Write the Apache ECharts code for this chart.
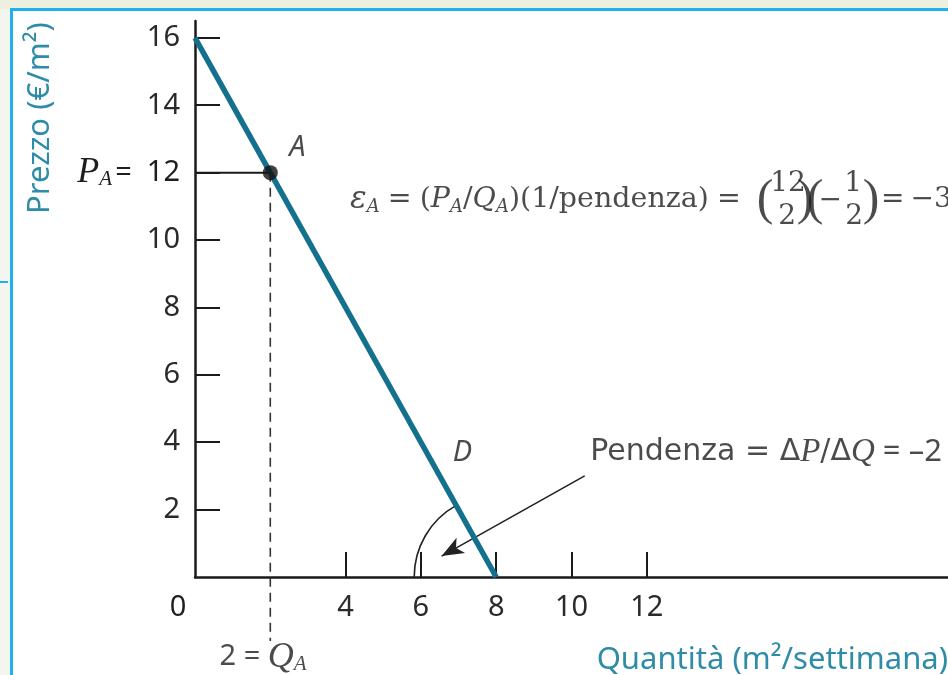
<!DOCTYPE html>
<html>
<head>
<meta charset="utf-8">
<script src="https://cdn.jsdelivr.net/npm/echarts@6/dist/echarts.min.js"></script>
<style>
  html, body { margin: 0; padding: 0; background: #ffffff; }
  #chart { width: 948px; height: 675px; }
</style>
</head>
<body>
<div id="chart"></div>
<script>
// Linear demand curve and the point-elasticity example at A
const priceTicks = [2, 4, 6, 8, 10, 12, 14, 16];
const quantityTicks = [4, 6, 8, 10, 12];
const quantityLabels = [0, 4, 6, 8, 10, 12];
const demandQ = [0, 8];
const demandP = [16, 0];
const pointA = [2, 12];          // [Q_A, P_A]

const SANS = '"Noto Sans", "Open Sans", sans-serif';
const WIDE = '"DejaVu Sans", "Noto Sans", sans-serif';
const SERIF = '"DejaVu Serif", "Liberation Serif", serif';
const TIMES = '"Liberation Serif", serif';
const INK = '#1e1e1e';
const TEAL = '#13718d';
const TITLE = '#2f8ca8';

const chart = echarts.init(document.getElementById('chart'), null, { renderer: 'canvas' });

// shared rich-text styles
const rich = {
  n: { fontFamily: SERIF, fontSize: 28.5, color: INK },
  q: { fontFamily: SERIF, fontSize: 28.5, color: INK, padding: [0, 8, 0, 8] },
  i: { fontFamily: SERIF, fontSize: 28.5, fontStyle: 'italic', color: INK },
  e: { fontFamily: SERIF, fontSize: 31, fontStyle: 'italic', color: INK },
  s: { fontFamily: SERIF, fontSize: 18, fontStyle: 'italic', color: INK, padding: [14, 0, 0, 0] },
  p: { fontFamily: TIMES, fontSize: 50, color: INK },
  f: { fontFamily: SERIF, fontSize: 28, color: INK },
  r: { fontFamily: SERIF, fontSize: 28, color: INK, padding: [0, 6, 0, 0] },
  sn: { fontFamily: SANS, fontSize: 29, color: INK },
  si: { fontFamily: SANS, fontSize: 29, fontStyle: 'italic', color: INK },
  pn: { fontFamily: WIDE, fontSize: 30, color: INK },
  pd: { fontFamily: SANS, fontSize: 31, color: INK },
  pi: { fontFamily: TIMES, fontSize: 33, fontStyle: 'italic', color: INK },
  ti: { fontFamily: TIMES, fontSize: 36, fontStyle: 'italic', color: INK },
  ts: { fontFamily: TIMES, fontSize: 21, fontStyle: 'italic', color: INK, padding: [14, 3, 0, 0] },
  z: { fontFamily: SANS, fontSize: 29, color: INK, padding: [0, 34, 0, 0] }
};

const [qA, pA] = pointA;

// annotation anchors (data coordinates)
const formulaAt = [4.12, 11.19];
const formulaParts = [
  { text: '{e|ε}{s|A}{q|=}{n|(}{i|P}{s|A}{n|/}{i|Q}{s|A}{n|)(1/pendenza)}{q|=}', dx: 0, dy: 0, align: 'left' },
  { text: '{p|(}', dx: 415, dy: 1 },
  { text: '{f|' + pA + '}', dx: 438, dy: -16 },
  { text: '{f|' + qA + '}', dx: 437, dy: 17 },
  { text: '{p|)}', dx: 455, dy: 1 },
  { text: '{p|(}', dx: 465, dy: 1 },
  { text: '{f|−}', dx: 480, dy: 1 },
  { text: '{f|1}', dx: 503, dy: -16 },
  { text: '{f|2}', dx: 504, dy: 17 },
  { text: '{p|)}', dx: 521, dy: 1 },
  { text: '{r|=}{f|−3}', dx: 531, dy: 0, align: 'left' }
];

const notes = [
  { value: [2.72, 12.75], text: '{si|A}', align: 'center' },
  { value: [7.1, 3.7], text: '{si|D}', align: 'center' },
  { value: [10.5, 3.7], text: '{pn|Pendenza = Δ}{pi|P}{pn|/Δ}{pi|Q}{pd| = –2}', align: 'left' },
  { value: [1.85, -2.38], text: '{sn|2 = }{ti|Q}{ts|A}', align: 'center' }
];

const noteData = notes.map(n => ({
  value: n.value,
  label: { formatter: n.text, align: n.align }
})).concat(formulaParts.map(p => ({
  value: formulaAt,
  label: { formatter: p.text, align: p.align || 'center', offset: [p.dx, p.dy] }
})));

const option = {
  backgroundColor: '#ffffff',
  animation: false,
  grid: { left: 195, right: 0, top: 21, bottom: 98, containLabel: false },
  xAxis: {
    type: 'value', min: 0, max: 20,
    axisLine: { show: true, onZero: false, lineStyle: { color: '#1a1a1a', width: 2.5 } },
    axisTick: { show: true, inside: true, length: 25, customValues: quantityTicks,
      lineStyle: { color: '#1a1a1a', width: 2 } },
    axisLabel: {
      customValues: quantityLabels, margin: 16,
      fontFamily: SANS, fontSize: 29, color: '#2a2a2a',
      formatter: v => (v === 0 ? '{z|0}' : String(v)),
      rich: rich
    },
    splitLine: { show: false }
  },
  yAxis: {
    type: 'value', min: 0, max: 16.5,
    axisLine: { show: true, onZero: false, lineStyle: { color: '#1a1a1a', width: 2.5 } },
    axisTick: { show: true, inside: true, length: 25, customValues: priceTicks,
      lineStyle: { color: '#1a1a1a', width: 2 } },
    axisLabel: {
      customValues: priceTicks, margin: 15,
      fontFamily: SANS, fontSize: 29, color: '#2a2a2a',
      formatter: v => (v === pA ? '{ti|P}{ts|A}{sn|=  ' + v + '}' : String(v)),
      rich: rich
    },
    splitLine: { show: false }
  },
  graphic: [
    // page frame
    { type: 'rect', shape: { x: 0, y: 0, width: 11, height: 675 }, style: { fill: '#f3f5ee' }, silent: true },
    { type: 'rect', shape: { x: 0, y: 0, width: 948, height: 9 }, style: { fill: '#eef0df' }, silent: true },
    { type: 'line', shape: { x1: 11.5, y1: 8, x2: 11.5, y2: 675 }, style: { stroke: '#1fb2ea', lineWidth: 3 }, silent: true },
    { type: 'line', shape: { x1: 10, y1: 9.5, x2: 948, y2: 9.5 }, style: { stroke: '#1fb2ea', lineWidth: 3 }, silent: true },
    { type: 'line', shape: { x1: 0, y1: 282, x2: 8, y2: 282 }, style: { stroke: '#1fb2ea', lineWidth: 2 }, silent: true },
    // axis titles
    { type: 'text', x: 40, y: 118, rotation: Math.PI / 2,
      style: { text: 'Prezzo (€/m²)', fontFamily: SANS, fontSize: 31, fill: TITLE, align: 'center', verticalAlign: 'middle' }, silent: true },
    { type: 'text', x: 948, y: 660,
      style: { text: 'Quantità (m²/settimana)', fontFamily: SANS, fontSize: 31, fill: TITLE, align: 'right', verticalAlign: 'middle' }, silent: true }
  ],
  series: [
    {
      name: 'D', type: 'line', data: demandQ.map((q, i) => [q, demandP[i]]),
      symbol: 'none', lineStyle: { color: TEAL, width: 5.5 }, z: 5, clip: false
    },
    {
      // guide from the price axis to A
      type: 'line', data: [[0, pA], [qA, pA]], symbol: 'none',
      lineStyle: { color: '#1a1a1a', width: 2 }, z: 3
    },
    {
      // guide from A down to Q_A
      type: 'line', data: [[qA, pA], [qA, -1.9]], symbol: 'none', clip: false,
      lineStyle: { color: '#333333', width: 1.6, type: [9, 6] }, z: 3
    },
    {
      // angle between the curve and the quantity axis, with the slope pointer
      type: 'custom', coordinateSystem: 'cartesian2d', data: [[demandQ[1], demandP[1]]], clip: false, z: 4,
      renderItem: function (params, api) {
        const c = api.coord([demandQ[1], demandP[1]]);
        const top = api.coord([demandQ[0], demandP[0]]);
        const ang = Math.atan2(top[1] - c[1], top[0] - c[0]) + 2 * Math.PI;
        return {
          type: 'arc',
          shape: { cx: c[0], cy: c[1], r: 82, startAngle: Math.PI, endAngle: ang, clockwise: true },
          style: { stroke: '#222222', lineWidth: 1.6, fill: null }
        };
      },
      markLine: {
        silent: true, symbol: ['none', 'arrow'], symbolSize: [13, 22],
        lineStyle: { color: '#222222', width: 1.6, type: 'solid' },
        label: { show: false },
        data: [[{ coord: [10.35, 3.0] }, { coord: [6.55, 0.62] }]]
      }
    },
    {
      name: 'A', type: 'scatter', data: [pointA], symbol: 'circle', symbolSize: 15,
      itemStyle: { color: '#111111' }, z: 6
    },
    {
      type: 'scatter', data: noteData, symbolSize: 0, clip: false, silent: true, z: 7,
      label: { show: true, position: 'inside', verticalAlign: 'middle', rich: rich }
    }
  ]
};

chart.setOption(option);
</script>
</body>
</html>
